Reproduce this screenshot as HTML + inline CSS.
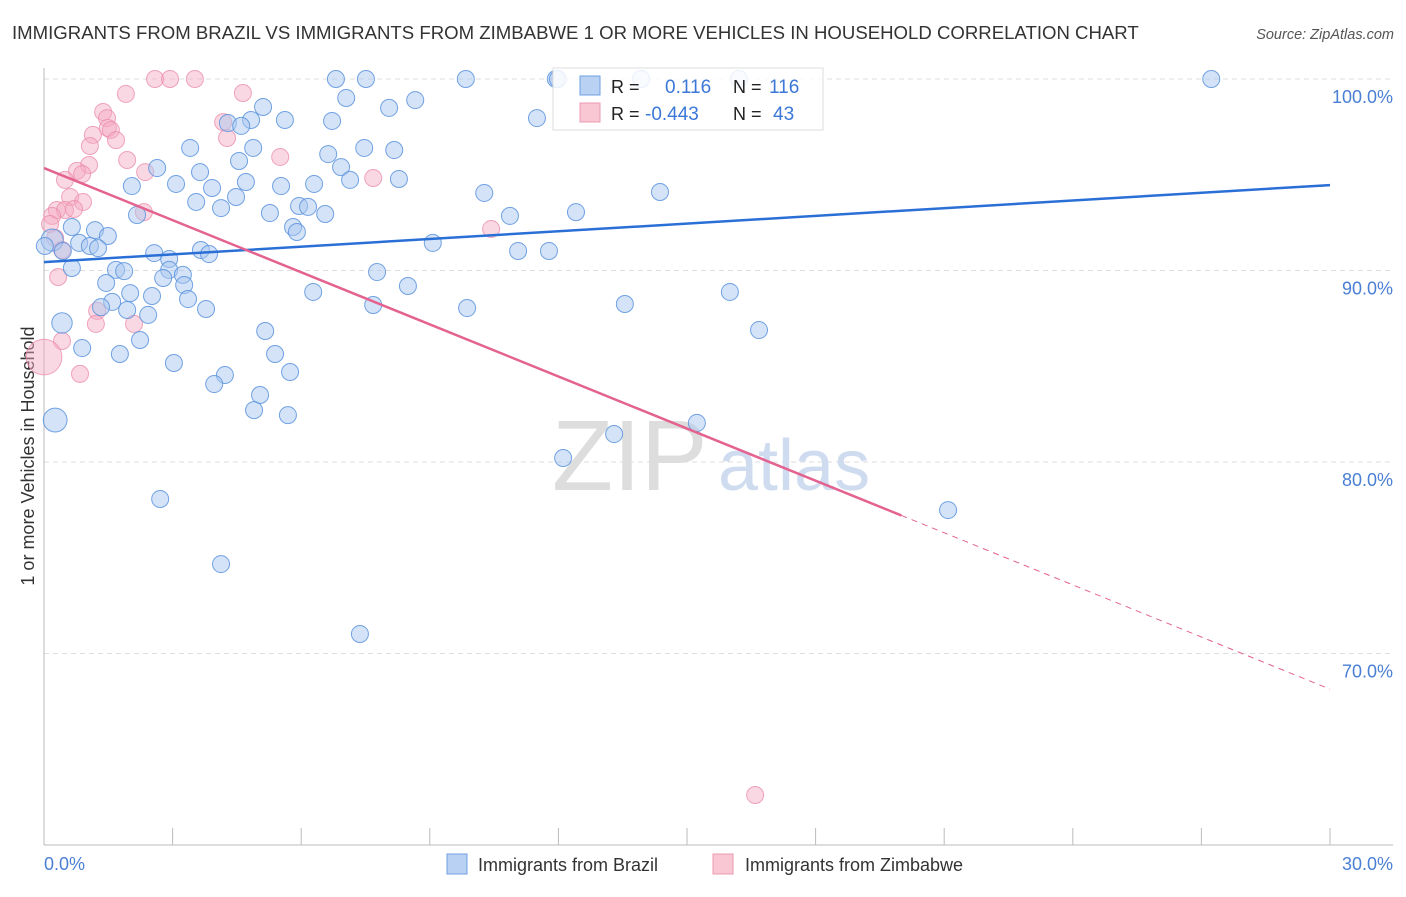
<!DOCTYPE html>
<html><head><meta charset="utf-8">
<style>
body{margin:0;background:#fff;font-family:"Liberation Sans",sans-serif;}
svg text{font-family:"Liberation Sans",sans-serif;}
</style></head>
<body>
<svg id="chart" width="1406" height="892" viewBox="0 0 1406 892" xmlns="http://www.w3.org/2000/svg">
<text x="12" y="39" font-size="18.6" fill="#333">IMMIGRANTS FROM BRAZIL VS IMMIGRANTS FROM ZIMBABWE 1 OR MORE VEHICLES IN HOUSEHOLD CORRELATION CHART</text>
<text x="1394" y="39" font-size="14.5" fill="#555" font-style="italic" text-anchor="end">Source: ZipAtlas.com</text>
<g id="grid"></g>
<g>
<text x="552" y="490" font-size="100" font-family="Liberation Serif,serif" fill="#ddd">ZIP</text>
<text x="718" y="490" font-size="72" fill="#cfdcf0">atlas</text>
</g>
<line x1="44" y1="68" x2="44" y2="845" stroke="#bbb" stroke-width="1"/>
<line x1="44" y1="845" x2="1393" y2="845" stroke="#bbb" stroke-width="1"/>
<g id="xticks"></g>
<g id="ylabels"></g>
<text x="44" y="870" font-size="18" fill="#4a7fd4">0.0%</text>
<text x="1393" y="870" font-size="18" fill="#4a7fd4" text-anchor="end">30.0%</text>
<text transform="translate(34,456) rotate(-90)" font-size="18" fill="#333" text-anchor="middle">1 or more Vehicles in Household</text>
<g id="pinkPts"></g>
<g id="bluePts"></g>
<g id="lines"></g>
<g>
<rect x="553" y="68" width="270" height="62" fill="#fff" fill-opacity="0.85" stroke="#ddd"/>
<rect x="580" y="76" width="20" height="19" fill="#b9d2f3" stroke="#6f9fe0"/>
<rect x="580" y="103" width="20" height="19" fill="#f9c6d4" stroke="#ec9ab2"/>
<text x="611" y="93" font-size="18" fill="#222">R = </text>
<text x="665" y="93" font-size="19" fill="#3b78d8">0.116</text>
<text x="733" y="93" font-size="18" fill="#222">N =</text>
<text x="769" y="93" font-size="19" fill="#3b78d8">116</text>
<text x="611" y="120" font-size="18" fill="#222">R =</text>
<text x="645" y="120" font-size="19" fill="#3b78d8">-0.443</text>
<text x="733" y="120" font-size="18" fill="#222">N =</text>
<text x="773" y="120" font-size="19" fill="#3b78d8">43</text>
</g>
<g>
<rect x="447" y="854" width="20" height="20" fill="#b9d2f3" stroke="#6f9fe0"/>
<text x="478" y="871" font-size="18" fill="#333">Immigrants from Brazil</text>
<rect x="713" y="854" width="20" height="20" fill="#f9c6d4" stroke="#ec9ab2"/>
<text x="745" y="871" font-size="18" fill="#333">Immigrants from Zimbabwe</text>
</g>
</svg>
<script>
const yTicks=[100,90,80,70];
const yTickLabels=["100.0%","90.0%","80.0%","70.0%"];
const xTickVals=[0,3,6,9,12,15,18,21,24,27,30];
const brazilX=[6.81,7.51,9.84,11.94,11.99,13.93,16.21,27.23,5.11,7.05,8.05,8.66,11.50,5.62,6.72,4.83,4.29,4.60,3.41,4.88,7.47,8.17,6.63,2.64,3.64,6.93,4.55,8.28,7.14,2.05,3.08,3.92,4.71,5.53,6.30,10.27,14.37,3.55,4.48,4.13,5.95,6.16,5.27,6.56,10.87,12.41,2.17,5.81,5.90,9.07,11.06,11.78,0.65,1.19,1.49,0.19,0.82,0.02,1.07,1.26,0.44,2.57,2.92,3.66,3.85,0.65,1.68,1.87,2.92,3.24,2.78,7.77,1.45,3.27,2.01,2.52,6.28,8.49,16.00,3.36,1.59,1.33,7.68,9.87,13.55,3.78,1.94,2.43,5.16,16.68,0.42,2.24,0.89,1.77,5.39,3.03,5.74,4.22,3.97,5.04,4.90,5.69,0.26,15.23,13.30,12.11,2.71,21.09,4.13,7.37];
const brazilY=[100,100,100,100,100,100,100,100,98.54,99.01,98.49,98.90,97.96,97.86,97.81,97.86,97.70,97.55,96.40,96.40,96.40,96.29,96.08,95.35,95.14,95.40,95.72,94.78,94.73,94.41,94.52,94.31,94.62,94.41,94.52,94.05,94.10,93.58,93.84,93.26,93.37,93.32,93.00,92.95,92.85,93.05,92.90,92.27,92.01,91.44,91.02,91.02,92.27,92.11,91.80,91.59,91.44,91.28,91.28,91.17,91.02,90.91,90.60,91.07,90.86,90.13,90.03,89.97,90.03,89.77,89.61,89.92,89.35,89.24,88.82,88.67,88.88,89.19,88.88,88.51,88.36,88.09,88.20,88.04,88.25,87.99,87.94,87.68,86.84,86.89,87.26,86.37,85.95,85.64,85.64,85.17,84.70,84.54,84.07,83.50,82.71,82.45,82.19,82.04,81.46,80.21,78.07,77.49,74.67,71.02];
const brazilSize=[1,1,1,1,1,1,1,1,1,1,1,1,1,1,1,1,1,1,1,1,1,1,1,1,1,1,1,1,1,1,1,1,1,1,1,1,1,1,1,1,1,1,1,1,1,1,1,1,1,1,1,1,1,1,1,1.3,1,1,1,1,1,1,1,1,1,1,1,1,1,1,1,1,1,1,1,1,1,1,1,1,1,1,1,1,1,1,1,1,1,1,1.2,1,1,1,1,1,1,1,1,1,1,1,1.4,1,1,1,1,1,1,1];
const zimX=[2.59,2.94,3.52,1.91,4.64,1.38,1.47,1.49,1.14,1.56,1.68,1.07,4.18,4.27,5.51,1.94,7.68,1.05,0.77,0.49,0.89,2.36,0.61,0.91,0.30,0.49,0.70,0.19,2.33,10.43,0.14,0.26,0.42,0.33,1.24,1.21,2.10,0.42,0.84,0.0,16.59];
const zimY=[100,100,100,99.22,99.27,98.28,97.96,97.44,97.08,97.34,96.81,96.50,97.75,96.92,95.93,95.77,94.83,95.51,95.20,94.73,95.04,95.14,93.84,93.58,93.16,93.16,93.21,92.85,93.05,92.17,92.43,91.70,91.07,89.66,87.89,87.21,87.21,86.32,84.60,85.48,62.61];
const zimSize=[1,1,1,1,1,1,1,1,1,1,1,1,1,1,1,1,1,1,1,1,1,1,1,1,1,1,1,1,1,1,1,1,1,1,1,1,1,1,1,2.1,1];
const brazilTrend=[90.44,94.46];
const zimTrendStart=95.35, zimTrendSlope=-0.907, zimSolidEnd=20;
const NS="http://www.w3.org/2000/svg";
const xs=v=>44+v/30*1286;
const ys=v=>79+(100-v)*19.15;
function mk(t,a,p){const e=document.createElementNS(NS,t);for(const k in a)e.setAttribute(k,a[k]);p.appendChild(e);return e;}
const grid=document.getElementById('grid');
yTicks.forEach((v,i)=>{
const l=mk('line',{x1:44,x2:1393,y1:ys(v),y2:ys(v),stroke:'#ddd','stroke-dasharray':'5,4'},grid);


const t=mk('text',{x:1393,y:ys(v)+24,'font-size':18,fill:'#4a7fd4','text-anchor':'end'},document.getElementById('ylabels'));
t.textContent=yTickLabels[i];


});
xTickVals.forEach(v=>{
const l=mk('line',{x1:xs(v),x2:xs(v),y1:828,y2:845,stroke:'#bbb'},document.getElementById('xticks'));


});
const pg=document.getElementById('pinkPts');
zimX.forEach((x,i)=>{
const c=mk('circle',{cx:xs(x),cy:ys(zimY[i]),r:8.5*zimSize[i],fill:'#f5a9c0','fill-opacity':0.45,stroke:'#ec8fab','stroke-opacity':0.8,'stroke-width':1},pg);


});
const bg=document.getElementById('bluePts');
brazilX.forEach((x,i)=>{
const c=mk('circle',{cx:xs(x),cy:ys(brazilY[i]),r:8.5*brazilSize[i],fill:'#a9c8f0','fill-opacity':0.5,stroke:'#5b93de','stroke-opacity':0.85,'stroke-width':1},bg);


});
const lg=document.getElementById('lines');
const b=mk('line',{x1:xs(0),y1:ys(brazilTrend[0]),x2:xs(30),y2:ys(brazilTrend[1]),stroke:'#2a6fd6','stroke-width':2.5},lg);


const p=mk('line',{x1:xs(0),y1:ys(zimTrendStart),x2:xs(zimSolidEnd),y2:ys(zimTrendStart+zimTrendSlope*zimSolidEnd),stroke:'#e4628f','stroke-width':2.5},lg);


const pd=mk('line',{x1:xs(zimSolidEnd),y1:ys(zimTrendStart+zimTrendSlope*zimSolidEnd),x2:xs(30),y2:ys(zimTrendStart+zimTrendSlope*30),stroke:'#e4628f','stroke-width':1,'stroke-dasharray':'6,5'},lg);


</script>
</body></html>
